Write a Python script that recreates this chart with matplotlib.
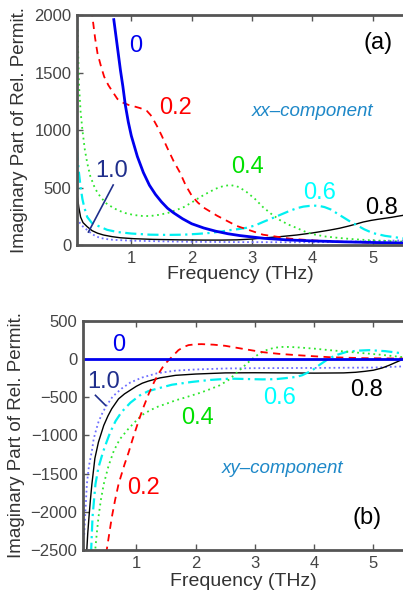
import numpy as np
import matplotlib
matplotlib.use("Agg")
import matplotlib.pyplot as plt

plt.rcParams["font.family"] = ["Liberation Sans", "DejaVu Sans"]

# ---- xx-component (panel a) ----
f_xx0 = [0.71, 0.77, 0.82, 0.86, 0.9, 0.95, 1.0, 1.1, 1.2, 1.3, 1.4, 1.5, 1.6, 1.7, 1.85, 2.0, 2.2, 2.4, 2.6, 2.8, 3.2, 3.6, 4.0, 4.5, 5.0, 5.5]
xx0 = [1960, 1720, 1520, 1380, 1220, 1070, 950, 770, 630, 520, 440, 375, 320, 280, 228, 185, 148, 120, 98, 82, 58, 44, 36, 28, 22, 18]

f_xx02 = [0.34, 0.4, 0.44, 0.5, 0.55, 0.62, 0.69, 0.77, 0.85, 0.96, 1.05, 1.15, 1.26, 1.32, 1.37, 1.43, 1.5, 1.6, 1.7, 1.81, 1.9, 2.0, 2.1, 2.2, 2.42, 2.75, 3.18, 3.63, 4.0, 4.5, 5.0, 5.5]
xx02 = [2050, 1800, 1667, 1550, 1464, 1390, 1333, 1270, 1240, 1217, 1205, 1190, 1165, 1130, 1087, 1030, 955, 840, 730, 626, 520, 430, 370, 325, 255, 165, 90, 55, 40, 28, 20, 15]

f_xx04 = [0.1, 0.11, 0.135, 0.16, 0.19, 0.23, 0.27, 0.32, 0.4, 0.49, 0.6, 0.77, 0.9, 1.04, 1.18, 1.31, 1.45, 1.6, 1.75, 1.87, 2.0, 2.14, 2.27, 2.4, 2.52, 2.64, 2.78, 2.91, 3.05, 3.18, 3.32, 3.46, 3.6, 3.74, 3.87, 4.0, 4.2, 4.45, 4.7, 5.0, 5.5]
xx04 = [1920, 1870, 1377, 1160, 1000, 830, 713, 600, 490, 417, 355, 304, 278, 261, 253, 252, 262, 278, 305, 330, 370, 417, 455, 490, 512, 522, 505, 461, 400, 330, 270, 217, 178, 148, 118, 95, 75, 61, 50, 40, 30]

f_xx06 = [0.1, 0.13, 0.16, 0.19, 0.22, 0.27, 0.35, 0.49, 0.6, 0.77, 1.0, 1.31, 1.6, 1.87, 2.1, 2.3, 2.5, 2.64, 2.78, 2.91, 3.05, 3.18, 3.32, 3.46, 3.6, 3.74, 3.85, 3.95, 4.05, 4.12, 4.2, 4.3, 4.45, 4.6, 4.73, 4.86, 5.0, 5.2, 5.5]
xx06 = [830, 640, 504, 400, 330, 243, 190, 157, 132, 113, 100, 90, 88, 90, 97, 105, 118, 130, 139, 150, 170, 200, 230, 261, 292, 320, 334, 340, 342, 339, 330, 310, 261, 212, 174, 136, 104, 80, 58]

f_xx08 = [0.1, 0.13, 0.16, 0.2, 0.27, 0.35, 0.44, 0.54, 0.68, 0.82, 1.05, 1.36, 1.8, 2.19, 2.5, 2.75, 3.0, 3.18, 3.45, 3.74, 4.0, 4.29, 4.45, 4.6, 4.72, 4.84, 4.97, 5.1, 5.3, 5.5]
xx08 = [450, 330, 243, 195, 159, 125, 103, 87, 73, 63, 55, 49, 45, 43, 43, 45, 52, 61, 72, 87, 105, 130, 146, 165, 182, 200, 214, 225, 240, 258]

f_xx10 = [0.1, 0.15, 0.2, 0.27, 0.35, 0.42, 0.49, 0.6, 0.7, 1.0, 1.5, 2.0, 3.0, 4.0, 4.5, 5.0, 5.5]
xx10 = [235, 190, 160, 130, 95, 75, 61, 51, 45, 38, 32, 28, 25, 24, 28, 35, 40]

# ---- xy-component (panel b) ----
f_xy0 = [0.1, 5.5]
xy0 = [0, 0]

f_xy02 = [0.49, 0.54, 0.585, 0.64, 0.7, 0.8, 0.87, 0.93, 1.04, 1.12, 1.21, 1.3, 1.375, 1.44, 1.49, 1.55, 1.6, 1.71, 1.8, 1.88, 2.0, 2.1, 2.3, 2.5, 2.8, 3.13, 3.4, 3.7, 4.0, 4.26, 4.82, 5.5]
xy02 = [-2550, -2300, -2075, -1850, -1636, -1380, -1220, -1066, -803, -630, -452, -300, -189, -110, -57, -10, 30, 118, 160, 184, 195, 197, 190, 175, 135, 92, 70, 53, 38, 26, 13, 8]

f_xy04 = [0.3, 0.33, 0.36, 0.4, 0.45, 0.53, 0.62, 0.72, 0.87, 1.03, 1.1, 1.23, 1.37, 1.52, 1.66, 1.8, 1.94, 2.08, 2.22, 2.4, 2.55, 2.67, 2.78, 2.87, 2.95, 3.07, 3.2, 3.32, 3.45, 3.6, 3.8, 4.0, 4.26, 4.55, 4.82, 5.1, 5.5]
xy04 = [-2550, -2300, -2075, -1850, -1636, -1400, -1200, -1050, -908, -780, -730, -670, -620, -580, -540, -508, -474, -440, -400, -345, -276, -195, -118, -55, 0, 70, 120, 148, 160, 160, 150, 138, 118, 98, 79, 60, 26]

f_xy06 = [0.235, 0.26, 0.285, 0.31, 0.36, 0.44, 0.5, 0.56, 0.65, 0.75, 0.9, 1.06, 1.2, 1.37, 1.6, 1.94, 2.25, 2.58, 2.85, 3.13, 3.35, 3.5, 3.6, 3.7, 3.8, 3.88, 3.97, 4.1, 4.26, 4.4, 4.55, 4.75, 4.93, 5.2, 5.5]
xy06 = [-2550, -2075, -1850, -1636, -1420, -1210, -1080, -956, -810, -693, -570, -474, -420, -382, -335, -298, -272, -255, -260, -265, -262, -250, -242, -232, -210, -180, -145, -70, 13, 60, 96, 112, 118, 105, 75]

f_xy08 = [0.16, 0.18, 0.2, 0.225, 0.25, 0.3, 0.36, 0.45, 0.52, 0.585, 0.7, 0.8, 0.87, 1.0, 1.1, 1.2, 1.4, 1.66, 2.0, 2.5, 3.0, 3.5, 4.0, 4.5, 4.7, 4.85, 5.0, 5.15, 5.27, 5.4, 5.5]
xy08 = [-2550, -2280, -2075, -1840, -1636, -1300, -1088, -868, -745, -649, -520, -455, -420, -355, -315, -288, -245, -212, -195, -180, -178, -180, -183, -180, -172, -160, -145, -115, -79, -35, 0]

f_xy10 = [0.12, 0.14, 0.165, 0.2, 0.25, 0.28, 0.32, 0.36, 0.43, 0.5, 0.6, 0.75, 0.9, 1.1, 1.35, 1.66, 2.0, 2.5, 3.0, 4.0, 5.0, 5.5]
xy10 = [-2300, -2000, -1636, -1400, -1200, -1044, -930, -825, -700, -605, -490, -386, -305, -240, -185, -150, -135, -122, -118, -115, -110, -95]

xx_ticks = [0, 500, 1000, 1500, 2000]
xy_ticks = [-2500, -2000, -1500, -1000, -500, 0, 500]
freq_ticks = [1, 2, 3, 4, 5]

frame_col = "#555555"
label_col = "#1f2e8c"
green = "#2ee62e"


def style_axes(ax, yticks, ylim, xlab_y, ylab_x):
    ax.set_xlim(0.1, 5.5)
    ax.set_ylim(*ylim)
    ax.set_xticks(freq_ticks)
    ax.set_yticks(yticks)
    for side in ["left", "bottom", "top"]:
        ax.spines[side].set_color(frame_col)
        ax.spines[side].set_linewidth(2)
    ax.spines["right"].set_visible(False)
    ax.tick_params(direction="in", length=4, width=1, colors=frame_col,
                   labelcolor="#444444", labelsize=12, top=True, pad=4)
    ax.set_xlabel("Frequency (THz)", fontsize=14, color="#333333", va="top")
    ax.xaxis.set_label_coords(0.5, xlab_y)
    ax.set_ylabel("Imaginary Part of Rel. Permit.", fontsize=13.5, color="#333333")
    ax.yaxis.set_label_coords(ylab_x, 0.5)


def draw_curves(ax, data):
    (f0, y0), (f2, y2), (f4, y4), (f6, y6), (f8, y8), (f10, y10) = data
    ax.plot(f10, y10, color="#6f6fff", lw=1.3, linestyle=(0, (1, 1.6)))
    ax.plot(f8, y8, color="black", lw=1.0)
    ax.plot(f6, y6, color="#00f0f0", lw=1.6, linestyle=(0, (5, 2, 1, 2)))
    ax.plot(f4, y4, color=green, lw=1.3, linestyle=(0, (1, 2)))
    ax.plot(f2, y2, color="red", lw=1.3, linestyle=(0, (4, 3)))
    ax.plot(f0, y0, color="#0000ee", lw=2.0)


fig = plt.figure(figsize=(4.03, 5.94), dpi=100)

# panel (a)
ax1 = fig.add_axes([0.191, 0.5875, 0.809, 0.3872])
draw_curves(ax1, [(f_xx0, xx0), (f_xx02, xx02), (f_xx04, xx04),
                  (f_xx06, xx06), (f_xx08, xx08), (f_xx10, xx10)])
style_axes(ax1, xx_ticks, (0, 2000), -0.09, -0.15)
ax1.plot([0.70, 0.29], [522, 113], color=label_col, lw=1.2)
ax1.text(1.08, 1730, "0", color="#0000ee", fontsize=17, ha="center", va="center")
ax1.text(1.73, 1190, "0.2", color="red", fontsize=17, ha="center", va="center")
ax1.text(2.92, 678, "0.4", color="#00e000", fontsize=17, ha="center", va="center")
ax1.text(4.11, 452, "0.6", color="cyan", fontsize=17, ha="center", va="center")
ax1.text(5.15, 322, "0.8", color="black", fontsize=17, ha="center", va="center")
ax1.text(0.67, 643, "1.0", color=label_col, fontsize=17, ha="center", va="center")
ax1.text(4.0, 1157, "xx\u2013component", color="#1e88c8", fontsize=13.5,
         style="italic", ha="center", va="center")
ax1.text(5.08, 1757, "(a)", color="black", fontsize=17, ha="center", va="center")

# panel (b)
ax2 = fig.add_axes([0.206, 0.0741, 0.794, 0.3855])
draw_curves(ax2, [(f_xy0, xy0), (f_xy02, xy02), (f_xy04, xy04),
                  (f_xy06, xy06), (f_xy08, xy08), (f_xy10, xy10)])
style_axes(ax2, xy_ticks, (-2500, 500), -0.10, -0.18)
ax2.plot([0.31, 0.48], [-474, -605], color=label_col, lw=1.2)
ax2.text(0.7, 184, "0", color="#0000ee", fontsize=17, ha="center", va="center")
ax2.text(1.12, -1684, "0.2", color="red", fontsize=17, ha="center", va="center")
ax2.text(2.03, -776, "0.4", color="#00e000", fontsize=17, ha="center", va="center")
ax2.text(3.42, -513, "0.6", color="cyan", fontsize=17, ha="center", va="center")
ax2.text(4.88, -408, "0.8", color="black", fontsize=17, ha="center", va="center")
ax2.text(0.45, -303, "1.0", color=label_col, fontsize=17, ha="center", va="center")
ax2.text(3.47, -1434, "xy\u2013component", color="#1e88c8", fontsize=13.5,
         style="italic", ha="center", va="center")
ax2.text(4.9, -2079, "(b)", color="black", fontsize=17, ha="center", va="center")

fig.savefig("out.png", dpi=100)
